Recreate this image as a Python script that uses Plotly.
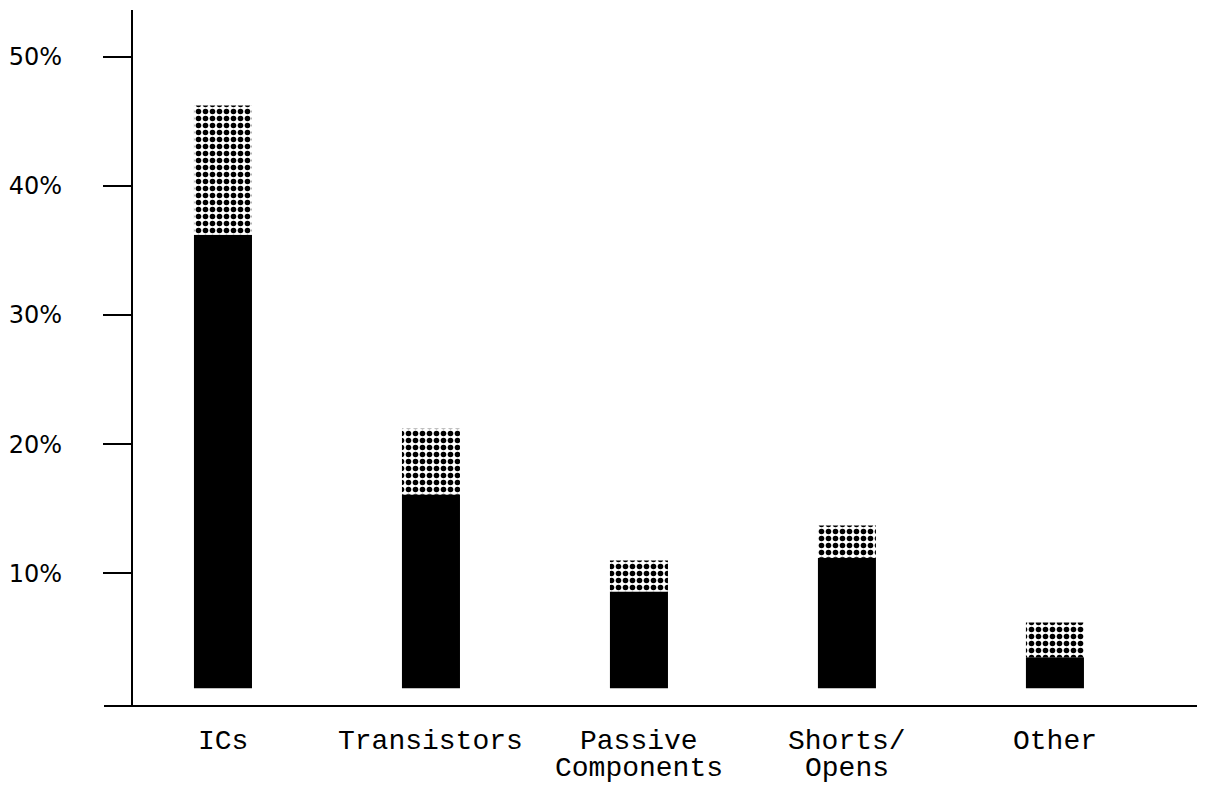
import plotly.graph_objects as go

categories = ["ICs", "Transistors", "Passive Components", "Shorts/ Opens", "Other"]
label_line1 = ["ICs", "Transistors", "Passive", "Shorts/", "Other"]
label_line2 = ["", "", "Components", "Opens", ""]
lower_top = [36.2, 16.1, 8.6, 11.2, 3.5]     # top of black segment (%)
total_top = [46.2, 21.2, 11.0, 13.7, 6.2]    # top of hatched segment (%)
y_tickvals = [10, 20, 30, 40, 50]
y_ticktext = ["10%", "20%", "30%", "40%", "50%"]

BAR_BASE = 1.1
BAR_W = 0.279

x_idx = list(range(len(categories)))
lower_len = [v - BAR_BASE for v in lower_top]
upper_len = [t - l for t, l in zip(total_top, lower_top)]

fig = go.Figure()
fig.add_trace(go.Bar(
    x=x_idx, y=lower_len, base=BAR_BASE, width=BAR_W,
    marker=dict(color="black", line=dict(width=0)),
    hoverinfo="skip", showlegend=False,
))
fig.add_trace(go.Bar(
    x=x_idx, y=upper_len, base=lower_top, width=BAR_W,
    marker=dict(color="white", line=dict(width=0),
                pattern=dict(shape=".", fgcolor="black", bgcolor="white",
                             size=7, solidity=0.5, fillmode="replace")),
    hoverinfo="skip", showlegend=False,
))

LABEL_FONT = dict(family="Liberation Mono", size=28, color="black")
annotations = []
for i, (a, b) in enumerate(zip(label_line1, label_line2)):
    annotations.append(dict(x=i, y=0, xref="x", yref="paper", text=a,
                            showarrow=False, yanchor="top", xanchor="center",
                            yshift=-19, font=LABEL_FONT))
    if b:
        annotations.append(dict(x=i, y=0, xref="x", yref="paper", text=b,
                                showarrow=False, yanchor="top", xanchor="center",
                                yshift=-46, font=LABEL_FONT))

fig.update_layout(
    width=1214, height=785,
    margin=dict(l=104, r=17, t=10, b=80),
    paper_bgcolor="white", plot_bgcolor="white",
    barmode="overlay",
    annotations=annotations,
    xaxis=dict(range=[-0.572, 4.683], showgrid=False, zeroline=False,
               showline=True, linecolor="black", linewidth=2,
               showticklabels=False, ticks="", fixedrange=True),
    yaxis=dict(range=[-0.19, 53.6], anchor="free", position=0.0256,
               showgrid=False, zeroline=False, fixedrange=True,
               showline=True, linecolor="black", linewidth=2,
               ticks="outside", ticklen=28, tickwidth=2, tickcolor="black",
               tickvals=y_tickvals, ticktext=y_ticktext,
               ticklabelstandoff=36,
               tickfont=dict(family="DejaVu Sans", size=24, color="black")),
)

fig.write_html("out.html", config={"displayModeBar": False},
               post_script="document.body.style.margin='0';document.body.style.overflow='hidden';")
